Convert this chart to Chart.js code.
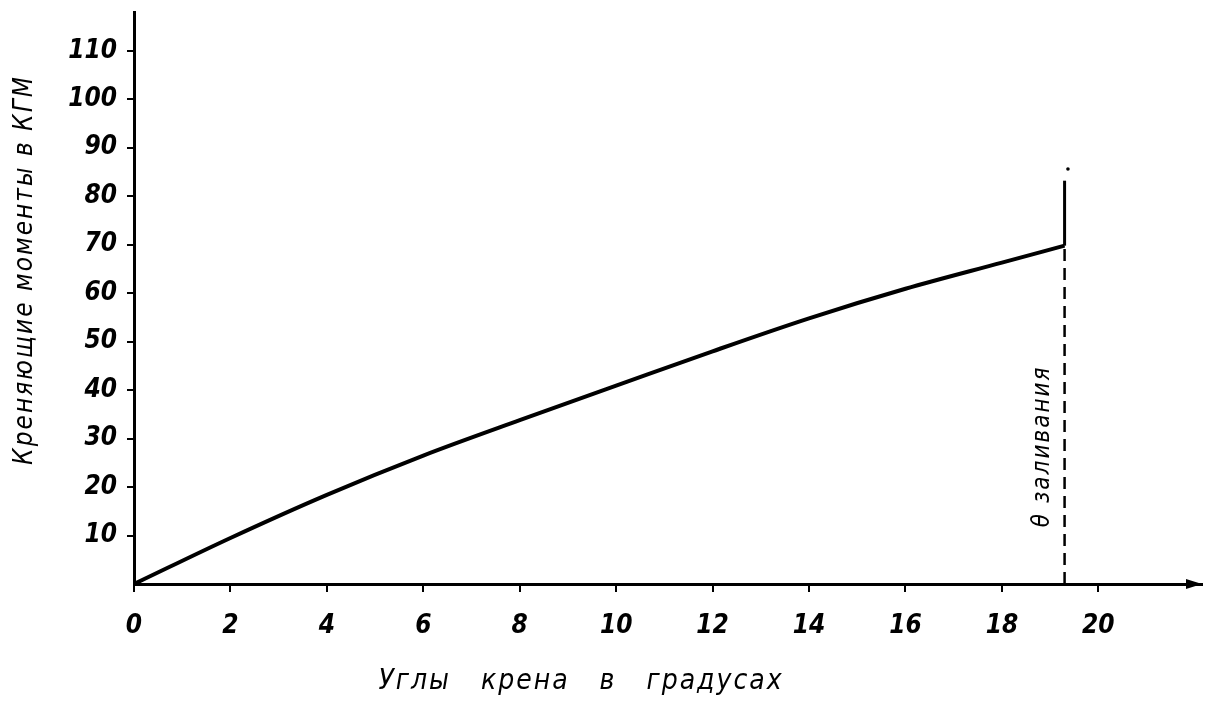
<!DOCTYPE html>
<html>
<head>
<meta charset="utf-8">
<script src="https://cdn.jsdelivr.net/npm/chart.js@4.4.1/dist/chart.umd.min.js"></script>
<style>
  html, body { margin: 0; padding: 0; background: #fff; }
  #wrap { width: 1209px; height: 703px; }
</style>
</head>
<body>
<div id="wrap"><canvas id="heelchart" width="1209" height="703"></canvas></div>
<script>
// heel angle (deg) vs heeling moment (kgm)
const angles  = [0, 2, 4, 6, 8, 10, 12, 14, 16, 18, 19.3];
const moments = [0, 9.5, 18.4, 26.5, 33.8, 40.9, 48, 54.8, 60.9, 66.3, 69.8];

// flooding angle marker
const floodAngle = 19.3;
const floodDashed = [0, 69.8];
const floodSolid = [69.8, 83.2];
const floodDot = [85.6];

const xTicks = [0, 2, 4, 6, 8, 10, 12, 14, 16, 18, 20];
const yTicks = [10, 20, 30, 40, 50, 60, 70, 80, 90, 100, 110];

const xTitle = 'Углы   крена   в   градусах';
const yTitle = 'Креняющие моменты в КГМ';
const floodLabel = 'θ заливания';

const narrow = '"Liberation Sans Narrow", "DejaVu Sans Condensed", "Liberation Sans", sans-serif';

// titles, flood label and the x axis arrow
const extras = {
  id: 'extras',
  afterDraw(chart) {
    const ctx = chart.ctx;
    const xs = chart.scales.x, ys = chart.scales.y;
    const area = chart.chartArea;
    ctx.save();
    ctx.fillStyle = '#000';

    // arrow head at the end of x axis
    ctx.beginPath();
    ctx.moveTo(area.right, area.bottom);
    ctx.lineTo(area.right - 16, area.bottom - 5);
    ctx.lineTo(area.right - 16, area.bottom + 5);
    ctx.closePath();
    ctx.fill();

    ctx.textAlign = 'center';
    ctx.textBaseline = 'middle';

    // x title
    ctx.font = 'italic 28px ' + narrow;
    ctx.letterSpacing = '2px';
    ctx.fillText(xTitle, 581, 682);

    // y title
    ctx.save();
    ctx.translate(25, 270);
    ctx.rotate(-Math.PI / 2);
    ctx.font = 'italic 26px ' + narrow;
    ctx.letterSpacing = '2px';
    ctx.fillText(yTitle, 0, 0);
    ctx.restore();

    // flood angle label
    ctx.save();
    ctx.translate(xs.getPixelForValue(18.85), ys.getPixelForValue(28.4));
    ctx.rotate(-Math.PI / 2);
    ctx.font = 'italic 24px ' + narrow;
    ctx.letterSpacing = '2px';
    ctx.fillText(floodLabel, 0, 0);
    ctx.restore();

    ctx.restore();
  }
};

const tickFont = { family: narrow, size: 26, style: 'italic', weight: 'bold' };

new Chart(document.getElementById('heelchart'), {
  type: 'scatter',
  data: {
    datasets: [
      {
        data: angles.map((a, i) => ({ x: a, y: moments[i] })),
        showLine: true,
        borderColor: '#000',
        borderWidth: 4,
        pointRadius: 0,
        cubicInterpolationMode: 'monotone'
      },
      {
        data: floodSolid.map(v => ({ x: floodAngle, y: v })),
        showLine: true,
        borderColor: '#000',
        borderWidth: 3,
        pointRadius: 0
      },
      {
        data: floodDashed.map(v => ({ x: floodAngle, y: v })),
        showLine: true,
        borderColor: '#000',
        borderWidth: 2.5,
        borderDash: [12, 7],
        pointRadius: 0
      },
      {
        data: floodDot.map(v => ({ x: floodAngle + 0.07, y: v })),
        showLine: false,
        pointRadius: 1.8,
        pointBackgroundColor: '#000',
        pointBorderWidth: 0
      }
    ]
  },
  options: {
    responsive: false,
    animation: false,
    layout: { padding: { left: 0, top: 12, right: 7, bottom: 0 } },
    plugins: {
      legend: { display: false },
      tooltip: { enabled: false }
    },
    scales: {
      x: {
        type: 'linear',
        min: 0,
        max: 22.15,
        afterBuildTicks: s => { s.ticks = xTicks.map(v => ({ value: v })); },
        afterFit: s => { s.height = 119; s.paddingLeft = 0; s.paddingRight = 0; },
        border: { color: '#000', width: 3 },
        grid: { drawOnChartArea: false, tickLength: 8, tickColor: '#000', lineWidth: 2 },
        ticks: { color: '#000', font: tickFont, padding: 19, maxRotation: 0, autoSkip: false }
      },
      y: {
        min: 0,
        max: 118,
        afterBuildTicks: s => { s.ticks = yTicks.map(v => ({ value: v })); },
        afterFit: s => { s.width = 134; s.paddingTop = 0; s.paddingBottom = 0; },
        border: { color: '#000', width: 3 },
        grid: { drawOnChartArea: false, tickLength: 7, tickColor: '#000', lineWidth: 2 },
        ticks: { color: '#000', font: tickFont, padding: 10, autoSkip: false }
      }
    }
  },
  plugins: [extras]
});
</script>
</body>
</html>
